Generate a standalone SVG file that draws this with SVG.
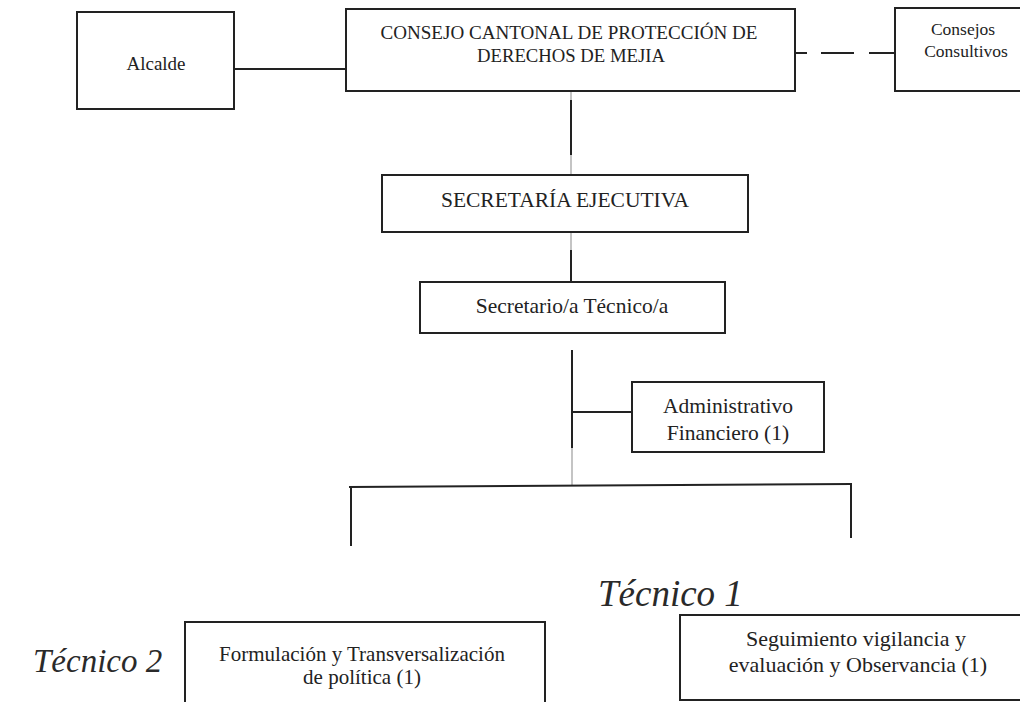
<svg xmlns="http://www.w3.org/2000/svg" width="1020" height="702" viewBox="0 0 1020 702">
<style>
.box{fill:#fff;stroke:#222;stroke-width:2}
.ln{stroke:#222;stroke-width:2;fill:none}
.faint{stroke:#c4c4c4;stroke-width:2;fill:none}
.t{font-family:"Liberation Serif","Times New Roman",serif;fill:#222;text-anchor:middle}
.it{font-family:"Liberation Serif","Times New Roman",serif;fill:#2a2a2a;font-style:italic}
</style>
<rect width="1020" height="702" fill="#fff"/>
<g id="connectors">
<line class="ln" x1="234" y1="69" x2="346" y2="69"/>
<line class="ln" x1="795" y1="53" x2="895" y2="53" stroke-dasharray="12,14,33,15,26"/>
<line class="faint" x1="571" y1="91" x2="571" y2="100"/>
<line class="ln" x1="571" y1="100" x2="571" y2="155"/>
<line class="faint" x1="571" y1="155" x2="571" y2="175"/>
<line class="faint" x1="571" y1="232" x2="571" y2="250"/>
<line class="ln" x1="571" y1="250" x2="571" y2="282"/>
<line class="ln" x1="572" y1="350" x2="572" y2="448"/>
<line class="faint" x1="572" y1="448" x2="572" y2="486"/>
<line class="ln" x1="572" y1="412" x2="632" y2="412"/>
<line class="ln" x1="349" y1="487" x2="852" y2="484"/>
<line class="ln" x1="351" y1="487" x2="351" y2="546"/>
<line class="ln" x1="851" y1="484" x2="851" y2="538"/>
</g>
<g id="alcalde">
<rect class="box" x="77" y="12" width="157" height="97"/>
<text class="t" x="156" y="70" font-size="19">Alcalde</text>
</g>
<g id="consejo">
<rect class="box" x="346" y="9" width="449" height="82"/>
<text class="t" x="569" y="39" font-size="19.5" textLength="377" lengthAdjust="spacingAndGlyphs">CONSEJO CANTONAL DE PROTECCIÓN DE</text>
<text class="t" x="571" y="62" font-size="19.5" textLength="188" lengthAdjust="spacingAndGlyphs">DERECHOS DE MEJIA</text>
</g>
<g id="consejos-consultivos">
<rect class="box" x="895" y="8" width="135" height="83"/>
<text class="t" x="963" y="35" font-size="17.5">Consejos</text>
<text class="t" x="966" y="57" font-size="17.5">Consultivos</text>
</g>
<g id="secretaria-ejecutiva">
<rect class="box" x="382" y="175" width="366" height="57"/>
<text class="t" x="565" y="207" font-size="21.5">SECRETARÍA EJECUTIVA</text>
</g>
<g id="secretario-tecnico">
<rect class="box" x="420" y="282" width="305" height="51"/>
<text class="t" x="572" y="313" font-size="21.5">Secretario/a Técnico/a</text>
</g>
<g id="administrativo">
<rect class="box" x="632" y="382" width="192" height="70"/>
<text class="t" x="728" y="413" font-size="21.5">Administrativo</text>
<text class="t" x="728" y="440" font-size="21.5">Financiero (1)</text>
</g>
<g id="tecnico1">
<text class="it" x="598" y="606" font-size="37">Técnico 1</text>
</g>
<g id="tecnico2">
<text class="it" x="33" y="672" font-size="33">Técnico 2</text>
</g>
<g id="formulacion">
<rect class="box" x="185" y="622" width="360" height="90"/>
<text class="t" x="362" y="661" font-size="21">Formulación y Transversalización</text>
<text class="t" x="362" y="684" font-size="21">de política (1)</text>
</g>
<g id="seguimiento">
<rect class="box" x="680" y="615" width="350" height="85"/>
<text class="t" x="856" y="646" font-size="22">Seguimiento vigilancia y</text>
<text class="t" x="858" y="672" font-size="22">evaluación y Observancia  (1)</text>
</g>
</svg>
